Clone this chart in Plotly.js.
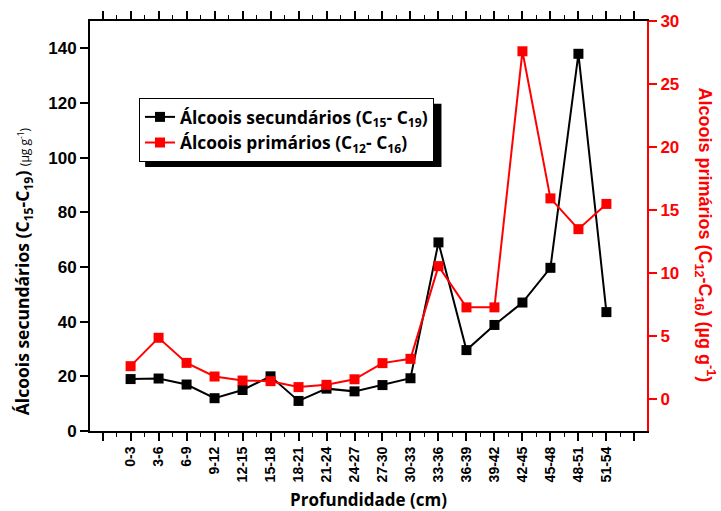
<!DOCTYPE html>
<html>
<head>
<meta charset="utf-8">
<script src="https://cdn.plot.ly/plotly-3.0.1.min.js"></script>
<style>html,body{margin:0;padding:0;background:#fff}#chart{width:721px;height:511px}</style>
</head>
<body>
<div id="chart"></div>
<script>
const categories = ["0-3","3-6","6-9","9-12","12-15","15-18","18-21","21-24","24-27","27-30","30-33","33-36","36-39","39-42","42-45","45-48","48-51","51-54"];
const secundarios = [19, 19.2, 17, 12, 15, 20, 11, 15.5, 14.5, 16.8, 19.3, 69, 29.6, 38.8, 47, 59.7, 138, 43.5];
const primarios = [2.64, 4.89, 2.9, 1.82, 1.5, 1.45, 0.98, 1.16, 1.6, 2.88, 3.22, 10.57, 7.3, 7.3, 27.6, 15.94, 13.5, 15.5];
const leftTicks = [0, 20, 40, 60, 80, 100, 120, 140];
const rightTicks = [0, 5, 10, 15, 20, 25, 30];

const idx = categories.map((c, i) => i);
const tickvals = [-1].concat(idx).concat([categories.length]);
const ticktext = [""].concat(categories.map(c => "<b>" + c + "</b>")).concat([""]);
const bold = a => a.map(v => "<b>" + v + "</b>");

const HUM = "'Open Sans', Lato, sans-serif";
const ARB = "'Liberation Sans', Arial, sans-serif";

const traces = [
  {x: idx, y: secundarios, type: "scatter", mode: "lines+markers", yaxis: "y",
   name: "<b>Álcoois secundários (C<sub>15</sub>- C<sub>19</sub>)</b>",
   line: {color: "#000", width: 2}, marker: {symbol: "square", size: 10, color: "#000"}},
  {x: idx, y: primarios, type: "scatter", mode: "lines+markers", yaxis: "y2",
   name: "<b>Álcoois primários (C<sub>12</sub>- C<sub>16</sub>)</b>",
   line: {color: "#ff0000", width: 2}, marker: {symbol: "square", size: 10, color: "#ff0000"}}
];

const layout = {
  width: 721, height: 511,
  margin: {l: 90, r: 74, t: 21, b: 80},
  paper_bgcolor: "#fff", plot_bgcolor: "#fff",
  showlegend: true,
  legend: {x: 0.088, y: 0.812, xanchor: "left", yanchor: "top", bgcolor: "#fff",
           bordercolor: "#000", borderwidth: 1, font: {family: HUM, size: 17.4, color: "#000"},
           tracegroupgap: 0, itemwidth: 30},
  xaxis: {range: [-1.45, 18.45], tickmode: "array", tickvals: tickvals, ticktext: ticktext,
          tickangle: -90, ticks: "outside", ticklen: 8, tickwidth: 2, tickcolor: "#000",
          showline: true, linecolor: "#000", linewidth: 2, mirror: "ticks", showgrid: false, zeroline: false,
          tickfont: {family: ARB, size: 14, color: "#000"},
          minor: {dtick: 0.5, tick0: 0.5, ticks: "outside", ticklen: 4, tickwidth: 1, tickcolor: "#000", showgrid: false},
          title: {text: "<b>Profundidade (cm)</b>", font: {family: HUM, size: 17, color: "#000"}, standoff: 14}},
  yaxis: {range: [0, 150], tickmode: "array", tickvals: leftTicks, ticktext: bold(leftTicks), ticks: "outside", ticklen: 8, tickwidth: 2,
          tickcolor: "#000", showline: true, linecolor: "#000", linewidth: 2, showgrid: false, zeroline: false,
          tickfont: {family: ARB, size: 17, color: "#000"}},
  yaxis2: {range: [-2.5, 30], overlaying: "y", side: "right", tickmode: "array", tickvals: rightTicks, ticktext: bold(rightTicks),
           ticks: "outside", ticklen: 8, tickwidth: 2, tickcolor: "#ff0000", showline: true, linecolor: "#ff0000",
           linewidth: 2, showgrid: false, zeroline: false,
           tickfont: {family: ARB, size: 17, color: "#ff0000"}},
  shapes: [
    {type: "rect", xref: "paper", yref: "paper", x0: 0.099, x1: 0.631, y0: 0.644, y1: 0.798,
     fillcolor: "#000", line: {width: 0}, layer: "above"}
  ],
  annotations: [
    {xref: "paper", yref: "paper", x: -0.12, y: 0.39, xanchor: "center", yanchor: "middle", textangle: -90, showarrow: false,
     text: "<b>Álcoois secundários (C<sub>15</sub>-C<sub>19</sub>)</b> <span style=\"font-size:12px\">(µg g<sup>-1</sup>)</span>",
     font: {family: HUM, size: 17.5, color: "#000"}},
    {xref: "paper", yref: "paper", x: 1.105, y: 0.478, xanchor: "center", yanchor: "middle", textangle: 90, showarrow: false,
     text: "<b>Alcoois primários (C<sub>12</sub>-C<sub>16</sub>) (µg g<sup>-1</sup>)</b>",
     font: {family: ARB, size: 18, color: "#ff0000"}}
  ]
};

Plotly.newPlot("chart", traces, layout, {displayModeBar: false, staticPlot: true});
</script>
</body>
</html>
